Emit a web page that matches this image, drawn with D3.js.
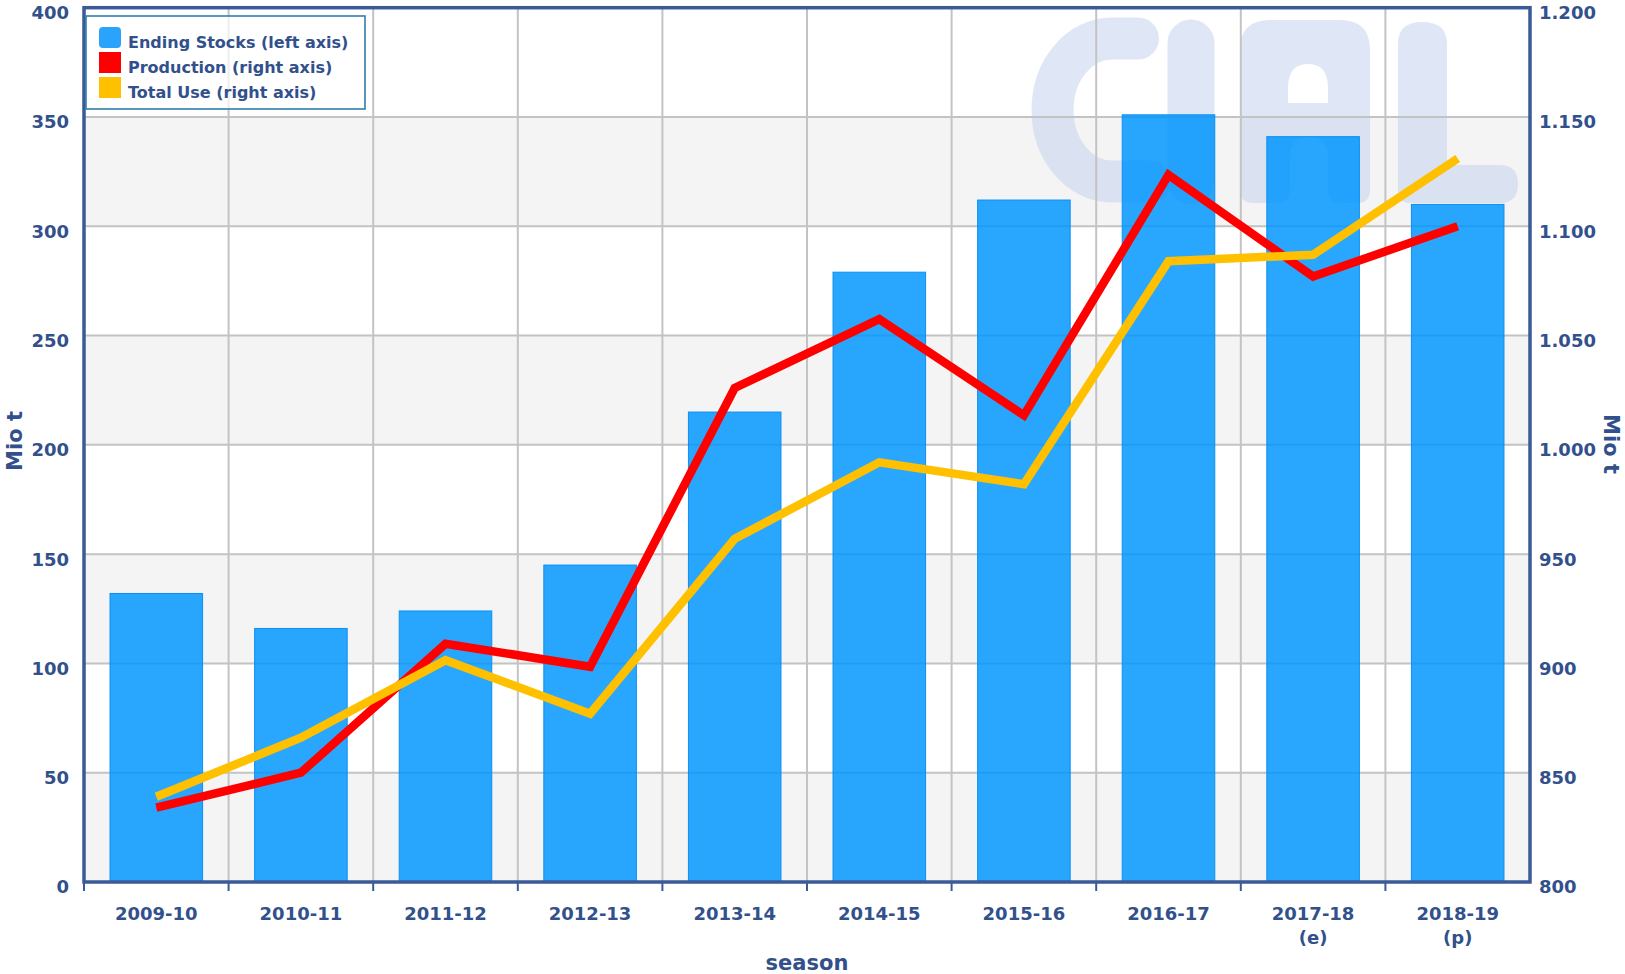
<!DOCTYPE html>
<html>
<head>
<meta charset="utf-8">
<script src="https://cdn.jsdelivr.net/npm/d3@7"></script>
<style>
  body { margin: 0; background: #fff; }
  svg text { font-family: "DejaVu Sans", Verdana, sans-serif; font-weight: bold; fill: #32508c; }
</style>
</head>
<body>
<div id="plot"></div>
<script>
// seasons and their second label line
var seasons = ["2009-10", "2010-11", "2011-12", "2012-13", "2013-14", "2014-15", "2015-16", "2016-17", "2017-18", "2018-19"];
var seasonNotes = ["", "", "", "", "", "", "", "", "(e)", "(p)"];

// Mio t
var endingStocks = [132, 116, 124, 145, 215, 279, 312, 351, 341, 310];
var production = [834, 850, 909, 898.5, 1026, 1057.5, 1013.5, 1123.5, 1077, 1100];
var totalUse = [839, 866, 901.5, 877, 957, 992, 982, 1084, 1087, 1131];

var leftTicks = [0, 50, 100, 150, 200, 250, 300, 350, 400];
var rightTicks = [800, 850, 900, 950, 1000, 1050, 1100, 1150, 1200];
var rightTickLabels = ["800", "850", "900", "950", "1.000", "1.050", "1.100", "1.150", "1.200"];

var legendItems = [
	{label: "Ending Stocks (left axis)", color: "#29a3fc"},
	{label: "Production (right axis)", color: "#ff0000"},
	{label: "Total Use (right axis)", color: "#ffc000"}
];

var W = 1625, H = 974;
var margin = {top: 7.7, right: 95, bottom: 92, left: 84};
var width = W - margin.left - margin.right;
var height = H - margin.top - margin.bottom;

var svg = d3.select("#plot").append("svg")
	.attr("width", W)
	.attr("height", H);

var g = svg.append("g")
	.attr("transform", "translate(" + margin.left + "," + margin.top + ")");

var x = d3.scaleBand().domain(seasons).range([0, width]).padding(0);
var yL = d3.scaleLinear().domain([0, 400]).range([height, 0]);
var yR = d3.scaleLinear().domain([800, 1200]).range([height, 0]);

// alternating bands
var bands = d3.range(0, 400, 50).filter(function(d) { return (d / 50) % 2 == 0; });
g.append("g").selectAll("rect")
	.data(bands)
	.enter().append("rect")
	.attr("x", 0)
	.attr("width", width)
	.attr("y", function(d) { return yL(d + 50); })
	.attr("height", function(d) { return yL(d) - yL(d + 50); })
	.attr("fill", "#f4f4f4");

// watermark logo (decoration, plot-relative)
var wm = g.append("g")
	.attr("transform", "translate(" + (-margin.left) + "," + (-margin.top) + ")")
	.attr("opacity", 0.58);
wm.append("path")
	.attr("d", "M1138,38.5 L1112,38.5 A59.5,71.5 0 0 0 1112,181.5 L1150,181.5")
	.attr("fill", "none").attr("stroke", "#c9d5ef").attr("stroke-width", 42)
	.attr("stroke-linecap", "round");
wm.append("line")
	.attr("x1", 1191).attr("x2", 1191).attr("y1", 43).attr("y2", 181)
	.attr("stroke", "#c9d5ef").attr("stroke-width", 47).attr("stroke-linecap", "round");
wm.append("path")
	.attr("d", "M1240,190 L1240,50 Q1240,20 1270,20 L1340,20 Q1370,20 1370,50 L1370,190 Q1370,203 1357,203 L1341,203 Q1328,203 1328,190 L1328,157 Q1328,137 1309,137 Q1290,137 1290,157 L1290,190 Q1290,203 1277,203 L1253,203 Q1240,203 1240,190 Z " +
		"M1288,103 L1288,86 Q1289,64 1308,64 Q1327,64 1328,86 L1328,103 Z")
	.attr("fill", "#c9d5ef").attr("fill-rule", "evenodd");
wm.append("path")
	.attr("d", "M1398,190 L1398,44 Q1398,22 1422,22 Q1447,22 1447,44 L1447,165 L1500,165 Q1518,165 1518,184 Q1518,203 1500,203 L1410,203 Q1398,203 1398,190 Z")
	.attr("fill", "#c9d5ef");

// grid
g.append("g").selectAll("line")
	.data(leftTicks.slice(1))
	.enter().append("line")
	.attr("x1", 0).attr("x2", width)
	.attr("y1", function(d) { return yL(d); })
	.attr("y2", function(d) { return yL(d); })
	.attr("stroke", "#c3c3c3").attr("stroke-width", 2);

g.append("g").selectAll("line")
	.data(seasons.slice(1))
	.enter().append("line")
	.attr("x1", function(d) { return x(d); })
	.attr("x2", function(d) { return x(d); })
	.attr("y1", 0).attr("y2", height)
	.attr("stroke", "#c3c3c3").attr("stroke-width", 2);

// bars
var barW = x.bandwidth() * 0.64;
g.append("g").selectAll("rect")
	.data(endingStocks)
	.enter().append("rect")
	.attr("x", function(d, i) { return x(seasons[i]) + (x.bandwidth() - barW) / 2; })
	.attr("width", barW)
	.attr("y", function(d) { return yL(d); })
	.attr("height", function(d) { return height - yL(d); })
	.attr("fill", "#0096ff")
	.attr("fill-opacity", 0.84)
	.attr("stroke", "#0a8ff5")
	.attr("stroke-width", 1);

// lines
var cx = function(d, i) { return x(seasons[i]) + x.bandwidth() / 2; };
var line = d3.line().x(cx).y(function(d) { return yR(d); });

g.append("path")
	.datum(production)
	.attr("d", line)
	.attr("fill", "none")
	.attr("stroke", "#ff0000")
	.attr("stroke-width", 8.5);

g.append("path")
	.datum(totalUse)
	.attr("d", line)
	.attr("fill", "none")
	.attr("stroke", "#ffc000")
	.attr("stroke-width", 8.5);

// frame
g.append("rect")
	.attr("x", 0).attr("y", 0)
	.attr("width", width).attr("height", height)
	.attr("fill", "none")
	.attr("stroke", "#3a5a98")
	.attr("stroke-width", 3.5);

// x ticks
g.append("g").selectAll("line")
	.data(seasons)
	.enter().append("line")
	.attr("x1", function(d) { return x(d); })
	.attr("x2", function(d) { return x(d); })
	.attr("y1", height).attr("y2", height + 9)
	.attr("stroke", "#3a5a98").attr("stroke-width", 2);

// x labels
var xl = g.append("g").selectAll("text")
	.data(seasons)
	.enter().append("text")
	.attr("x", function(d) { return x(d) + x.bandwidth() / 2; })
	.attr("y", height + 38)
	.attr("text-anchor", "middle")
	.style("font-size", "18px");
xl.append("tspan").text(function(d) { return d; });
xl.append("tspan")
	.attr("x", function(d) { return x(d) + x.bandwidth() / 2; })
	.attr("dy", 24)
	.text(function(d, i) { return seasonNotes[i]; });

// left labels
g.append("g").selectAll("text")
	.data(leftTicks)
	.enter().append("text")
	.attr("x", -15)
	.attr("y", function(d) { return yL(d) + 11.5; })
	.attr("text-anchor", "end")
	.style("font-size", "18px")
	.text(function(d) { return d; });

// right labels
g.append("g").selectAll("text")
	.data(rightTicks)
	.enter().append("text")
	.attr("x", width + 9)
	.attr("y", function(d) { return yR(d) + 11.5; })
	.attr("text-anchor", "start")
	.style("font-size", "18px")
	.text(function(d, i) { return rightTickLabels[i]; });

// axis titles
svg.append("text")
	.attr("transform", "translate(22,441) rotate(-90)")
	.attr("text-anchor", "middle")
	.style("font-size", "21px")
	.text("Mio t");

svg.append("text")
	.attr("transform", "translate(1604,444) rotate(90)")
	.attr("text-anchor", "middle")
	.style("font-size", "21px")
	.text("Mio t");

svg.append("text")
	.attr("x", margin.left + width / 2)
	.attr("y", 970)
	.attr("text-anchor", "middle")
	.style("font-size", "21px")
	.text("season");

// legend
var lg = svg.append("g").attr("transform", "translate(86,16)");
lg.append("rect")
	.attr("width", 279).attr("height", 93)
	.attr("fill", "#fff").attr("fill-opacity", 0.7)
	.attr("stroke", "#2f7fab").attr("stroke-width", 1.6);

var li = lg.selectAll(".li")
	.data(legendItems)
	.enter().append("g")
	.attr("class", "li")
	.attr("transform", function(d, i) { return "translate(0," + (i * 25) + ")"; });
li.append("rect")
	.attr("x", 13).attr("y", 11)
	.attr("width", 22).attr("height", 21)
	.attr("rx", function(d, i) { return i == 0 ? 4 : 0; })
	.attr("fill", function(d) { return d.color; });
li.append("text")
	.attr("x", 42).attr("y", 31.5)
	.style("font-size", "16px")
	.text(function(d) { return d.label; });
</script>
</body>
</html>
